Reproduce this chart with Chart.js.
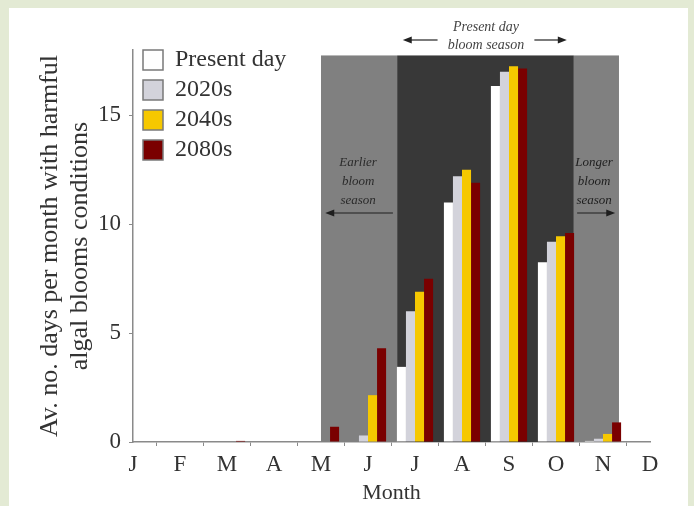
<!DOCTYPE html>
<html>
<head>
<meta charset="utf-8">
<script src="https://cdn.jsdelivr.net/npm/chart.js@4.4.1/dist/chart.umd.min.js"></script>
<style>
  html, body { margin: 0; padding: 0; background: #e3ead4; overflow: hidden; }
  #panel { position: absolute; left: 9px; top: 8px; width: 679px; height: 498px; background: #fff; }
  #wrap { position: absolute; left: 0; top: 0; width: 694px; height: 506px; }
</style>
</head>
<body>
<div id="panel"></div>
<div id="wrap"><canvas id="chart" width="694" height="506"></canvas></div>
<script>
// months on the x axis
const months = ['J', 'F', 'M', 'A', 'M', 'J', 'J', 'A', 'S', 'O', 'N', 'D'];
const seriesNames = ['Present day', '2020s', '2040s', '2080s'];

// average no. of days per month with harmful algal bloom conditions
const presentDay = [0, 0, 0, 0, 0, 0, 3.45, 11.0, 16.35, 8.25, 0.05, 0];
const days2020s  = [0, 0, 0, 0, 0, 0.3, 6.0, 12.2, 17.0, 9.2, 0.15, 0];
const days2040s  = [0, 0, 0, 0, 0, 2.15, 6.9, 12.5, 17.25, 9.45, 0.37, 0];
const days2080s  = [0, 0, 0.05, 0, 0.7, 4.3, 7.5, 11.9, 17.15, 9.6, 0.9, 0];

const yTicks = [0, 5, 10, 15];

const serif = "'Liberation Serif', 'Times New Roman', serif";
const textColor = '#333';
const axisColor = '#8a8a8a';

// grey background bands for the bloom seasons (x in month index units)
const seasonShading = {
  id: 'seasonShading',
  afterLayout(chart) {
    // put the legend just inside the top-left corner of the plot
    const lg = chart.legend;
    const area = chart.chartArea;
    lg.top = area.top - 8;
    lg.bottom = area.bottom;
    lg.left = area.left + 4;
  },
  beforeDatasetsDraw(chart) {
    const { ctx, scales: { x, y } } = chart;
    const top = y.getPixelForValue(17.75);
    const bottom = y.getPixelForValue(0);
    const band = (from, to, color) => {
      const x0 = x.getPixelForValue(from);
      const x1 = x.getPixelForValue(to);
      ctx.fillStyle = color;
      ctx.fillRect(x0, top, x1 - x0, bottom - top);
    };
    ctx.save();
    band(4.0, 5.62, '#808080');
    band(5.62, 9.38, '#383838');
    band(9.38, 10.34, '#808080');
    ctx.restore();
  }
};

function arrow(ctx, x0, x1, y, color) {
  // head drawn at x1
  const dir = x1 > x0 ? 1 : -1;
  ctx.strokeStyle = color;
  ctx.fillStyle = color;
  ctx.lineWidth = 1.2;
  ctx.beginPath();
  ctx.moveTo(x0, y);
  ctx.lineTo(x1 - dir * 6, y);
  ctx.stroke();
  ctx.beginPath();
  ctx.moveTo(x1, y);
  ctx.lineTo(x1 - dir * 9, y - 3.5);
  ctx.lineTo(x1 - dir * 9, y + 3.5);
  ctx.closePath();
  ctx.fill();
}

const seasonLabels = {
  id: 'seasonLabels',
  afterDatasetsDraw(chart) {
    const { ctx, scales: { x } } = chart;
    const px = v => x.getPixelForValue(v);
    ctx.save();
    ctx.font = 'italic 13px ' + serif;
    ctx.textAlign = 'center';
    ctx.textBaseline = 'middle';
    ctx.fillStyle = '#2a2a2a';

    ['Earlier', 'bloom', 'season'].forEach((t, i) => ctx.fillText(t, px(4.79), 163 + i * 19));
    arrow(ctx, px(5.53), px(4.09), 213, '#1e1e1e');

    ['Longer', 'bloom', 'season'].forEach((t, i) => ctx.fillText(t, px(9.81), 163 + i * 19));
    arrow(ctx, px(9.45), px(10.26), 213, '#1e1e1e');

    ctx.fillStyle = '#444';
    ctx.font = 'italic 14px ' + serif;
    ctx.fillText('Present day', px(7.51), 27);
    ctx.fillText('bloom season', px(7.51), 45);
    arrow(ctx, px(6.48), px(5.74), 40, '#222');
    arrow(ctx, px(8.54), px(9.23), 40, '#222');
    ctx.restore();
  }
};

new Chart(document.getElementById('chart'), {
  type: 'bar',
  data: {
    labels: months,
    datasets: [
      { label: seriesNames[0], data: presentDay, backgroundColor: '#ffffff' },
      { label: seriesNames[1], data: days2020s, backgroundColor: '#d3d3db' },
      { label: seriesNames[2], data: days2040s, backgroundColor: '#f6c800' },
      { label: seriesNames[3], data: days2080s, backgroundColor: '#7a0000' }
    ]
  },
  options: {
    responsive: false,
    animation: false,
    devicePixelRatio: 1,
    layout: { padding: { left: 0, top: 50, right: 44, bottom: 0 } },
    datasets: {
      bar: { categoryPercentage: 0.77, barPercentage: 1.0, borderWidth: 0 }
    },
    plugins: {
      tooltip: { enabled: false },
      legend: {
        position: 'chartArea',
        align: 'start',
        labels: {
          font: { family: serif, size: 24 },
          color: textColor,
          boxWidth: 20,
          boxHeight: 20,
          padding: 6,
          generateLabels(chart) {
            const items = Chart.defaults.plugins.legend.labels.generateLabels(chart);
            items.forEach(it => { it.lineWidth = 1.5; it.strokeStyle = '#7a7a7a'; });
            return items;
          }
        }
      }
    },
    scales: {
      x: {
        offset: false,
        afterFit(scale) { scale.height = 64; },
        grid: { display: true, drawOnChartArea: false, drawTicks: true, tickLength: 4, color: axisColor },
        border: { display: true, color: axisColor, width: 1.5 },
        ticks: {
          font: { family: serif, size: 23 },
          color: textColor,
          padding: 5,
          maxRotation: 0,
          autoSkip: false
        },
        title: {
          display: true,
          text: 'Month',
          font: { family: serif, size: 22 },
          color: textColor,
          padding: { top: 0, bottom: 0 }
        }
      },
      y: {
        min: 0,
        max: 18,
        afterFit(scale) { scale.width = 133; },
        afterBuildTicks(scale) { scale.ticks = yTicks.map(v => ({ value: v })); },
        grid: { display: true, drawOnChartArea: false, drawTicks: true, tickLength: 4, color: axisColor },
        border: { display: true, color: axisColor, width: 1.5 },
        ticks: {
          font: { family: serif, size: 23 },
          color: textColor,
          padding: 8
        },
        title: {
          display: true,
          text: ['Av. no. days per month with harmful', 'algal blooms conditions'],
          font: { family: serif, size: 26, lineHeight: 1.15 },
          color: textColor,
          padding: { top: 35, bottom: 0 }
        }
      }
    }
  },
  plugins: [seasonShading, seasonLabels]
});
</script>
</body>
</html>
